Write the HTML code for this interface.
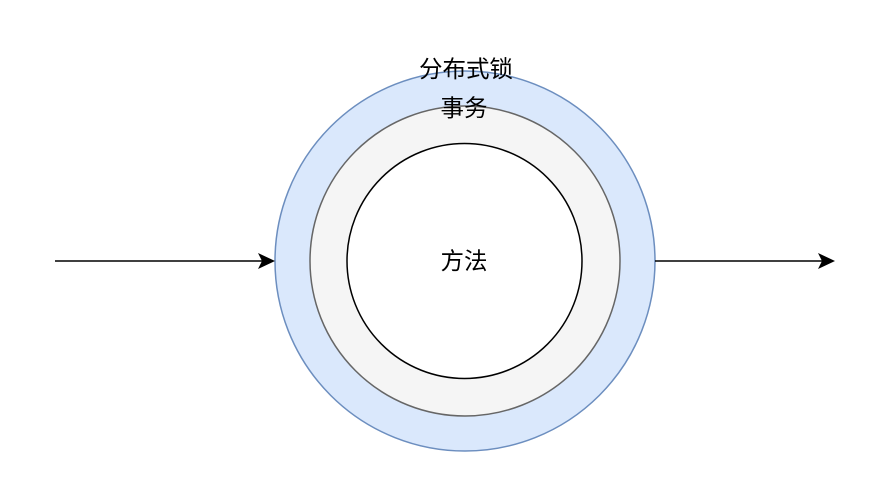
<!DOCTYPE html>
<html><head><meta charset="utf-8"><style>
html,body{margin:0;padding:0;background:#fff;width:892px;height:492px;overflow:hidden}
text{font-family:"Liberation Sans","Noto Sans CJK SC",sans-serif;font-size:23.5px;fill:#000}
</style></head><body>
<svg width="892" height="492" viewBox="0 0 892 492" xmlns="http://www.w3.org/2000/svg">
<circle cx="465" cy="261" r="190" fill="#dae8fc" stroke="#6c8ebf" stroke-width="1.5"/>
<circle cx="465" cy="261" r="155" fill="#f5f5f5" stroke="#666666" stroke-width="1.5"/>
<circle cx="464.5" cy="261" r="117.5" fill="#fff" stroke="#000" stroke-width="1.5"/>
<line x1="55" y1="261" x2="268" y2="261" stroke="#000" stroke-width="1.5"/>
<path d="M275 261 L258 269 L262 261 L258 253 Z" fill="#000"/>
<line x1="655" y1="261" x2="828" y2="261" stroke="#000" stroke-width="1.5"/>
<path d="M835 261 L818 269 L822 261 L818 253 Z" fill="#000"/>
<text x="466" y="77" text-anchor="middle">分布式锁</text>
<text x="464" y="116" text-anchor="middle">事务</text>
<text x="464" y="269" text-anchor="middle">方法</text>
</svg>
</body></html>
